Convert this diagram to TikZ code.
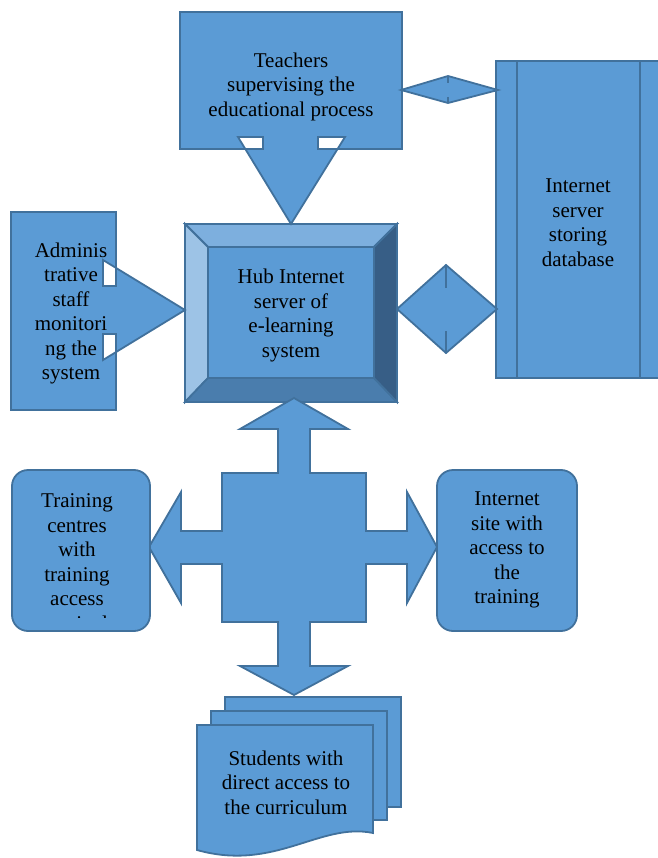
\documentclass[tikz,border=0pt]{standalone}
\usepackage{fontspec}
\setmainfont{Liberation Serif}

\definecolor{blu}{HTML}{5B9BD5}
\definecolor{bordo}{HTML}{41719C}
\definecolor{smussoA}{HTML}{7DAFDE}
\definecolor{smussoB}{HTML}{9DC3E6}
\definecolor{smussoC}{HTML}{4A7DAD}
\definecolor{smussoD}{HTML}{375E86}

\tikzset{
	blocco/.style={fill=blu, draw=bordo, line width=1.8pt, line join=miter},
	smusso/.style={draw=bordo, line width=1.8pt, line join=miter},
	testo/.style={align=center, inner sep=0pt, text=black, font=\fontsize{21}{24.5}\selectfont}
}

\begin{document}
\begin{tikzpicture}[x=1pt, y=-1pt]
	\useasboundingbox (0,0) rectangle (657,858);

	% Hub
	\coordinate[](a) at (185,224);
	\coordinate[](b) at (397,224);
	\coordinate[](c) at (397,402);
	\coordinate[](d) at (185,402);
	\coordinate[](e) at (208,247);
	\coordinate[](f) at (374,247);
	\coordinate[](g) at (374,378);
	\coordinate[](h) at (208,378);

	\filldraw[smusso, fill=blu] (e) -- (f) -- (g) -- (h) -- cycle;
	\filldraw[smusso, fill=smussoA] (a) -- (b) -- (f) -- (e) -- cycle;
	\filldraw[smusso, fill=smussoB] (a) -- (e) -- (h) -- (d) -- cycle;
	\filldraw[smusso, fill=smussoC] (d) -- (h) -- (g) -- (c) -- cycle;
	\filldraw[smusso, fill=smussoD] (b) -- (c) -- (g) -- (f) -- cycle;
	\draw[smusso] (a) -- (b) -- (c) -- (d) -- cycle;
	\node[testo] (hub) at (291,315.5) {Hub Internet\\server of\\e-learning\\system};

	% Teachers
	\filldraw[blocco, even odd rule] (180,12) -- (402,12) -- (402,149) -- (318,149) -- (318,137)
	-- (345,137) -- (291,224) -- (238,137) -- (263,137) -- (263,149) -- (180,149) -- cycle;
	\node[testo] (teachers) at (291,86.5) {Teachers\\supervising the\\educational process};

	% Administrative staff
	\filldraw[blocco, even odd rule] (11,212) -- (116,212) -- (116,286) -- (103,286) -- (103,260)
	-- (185,310) -- (103,360) -- (103,334) -- (116,334) -- (116,410) -- (11,410) -- cycle;
	\node[testo] (admin) at (71,313.5) {Adminis\\trative\\staff\\monitori\\ng the\\system};

	% Database
	\filldraw[blocco] (496,61) rectangle (661,378);
	\draw[smusso] (517,61) -- (517,378);
	\draw[smusso] (640,61) -- (640,378);
	\node[testo] (database) at (578,222.5) {Internet\\server\\storing\\database};

	% Double arrows
	\filldraw[blocco] (401,90) -- (448,76) -- (498,90) -- (448,103) -- cycle;
	\draw[smusso] (448,76) -- (448,83);
	\draw[smusso] (448,97) -- (448,103);
	\filldraw[blocco] (397,309) -- (446,265) -- (497,309) -- (446,353) -- cycle;
	\draw[smusso] (446,265) -- (446,288);
	\draw[smusso] (446,331) -- (446,353);

	% Cross
	\filldraw[blocco] (294,398) -- (348,429) -- (310,429) -- (310,473) -- (366,473) -- (366,531)
	-- (407,531) -- (407,492) -- (437,547) -- (407,603) -- (407,564) -- (366,564) -- (366,622)
	-- (310,622) -- (310,666) -- (348,666) -- (294,695) -- (240,666) -- (278,666) -- (278,622)
	-- (222,622) -- (222,564) -- (181,564) -- (181,603) -- (149,547) -- (181,492) -- (181,531)
	-- (222,531) -- (222,473) -- (278,473) -- (278,429) -- (240,429) -- cycle;

	% Training centres
	\filldraw[blocco, rounded corners=16pt] (12,470) rectangle (150,631);
	\begin{scope}
	\clip (12,470) rectangle (150,617);
	\node[testo] (centres) at (77,562) {Training\\centres\\with\\training\\access\\terminals};
	\end{scope}

	% Internet site
	\filldraw[blocco, rounded corners=16pt] (437,470) rectangle (577,631);
	\node[testo] (site) at (507,550) {Internet\\site with\\access to\\the\\training};

	% Students
	\filldraw[blocco] (225,697) rectangle (401,807);
	\filldraw[blocco] (211,711) rectangle (387,820);
	\filldraw[blocco] (197,725) -- (373,725) -- (373,833)
	.. controls (320,822) and (275,872) .. (197,850) -- cycle;
	\node[testo] (students) at (286,782.5) {Students with\\direct access to\\the curriculum};

\end{tikzpicture}
\end{document}
